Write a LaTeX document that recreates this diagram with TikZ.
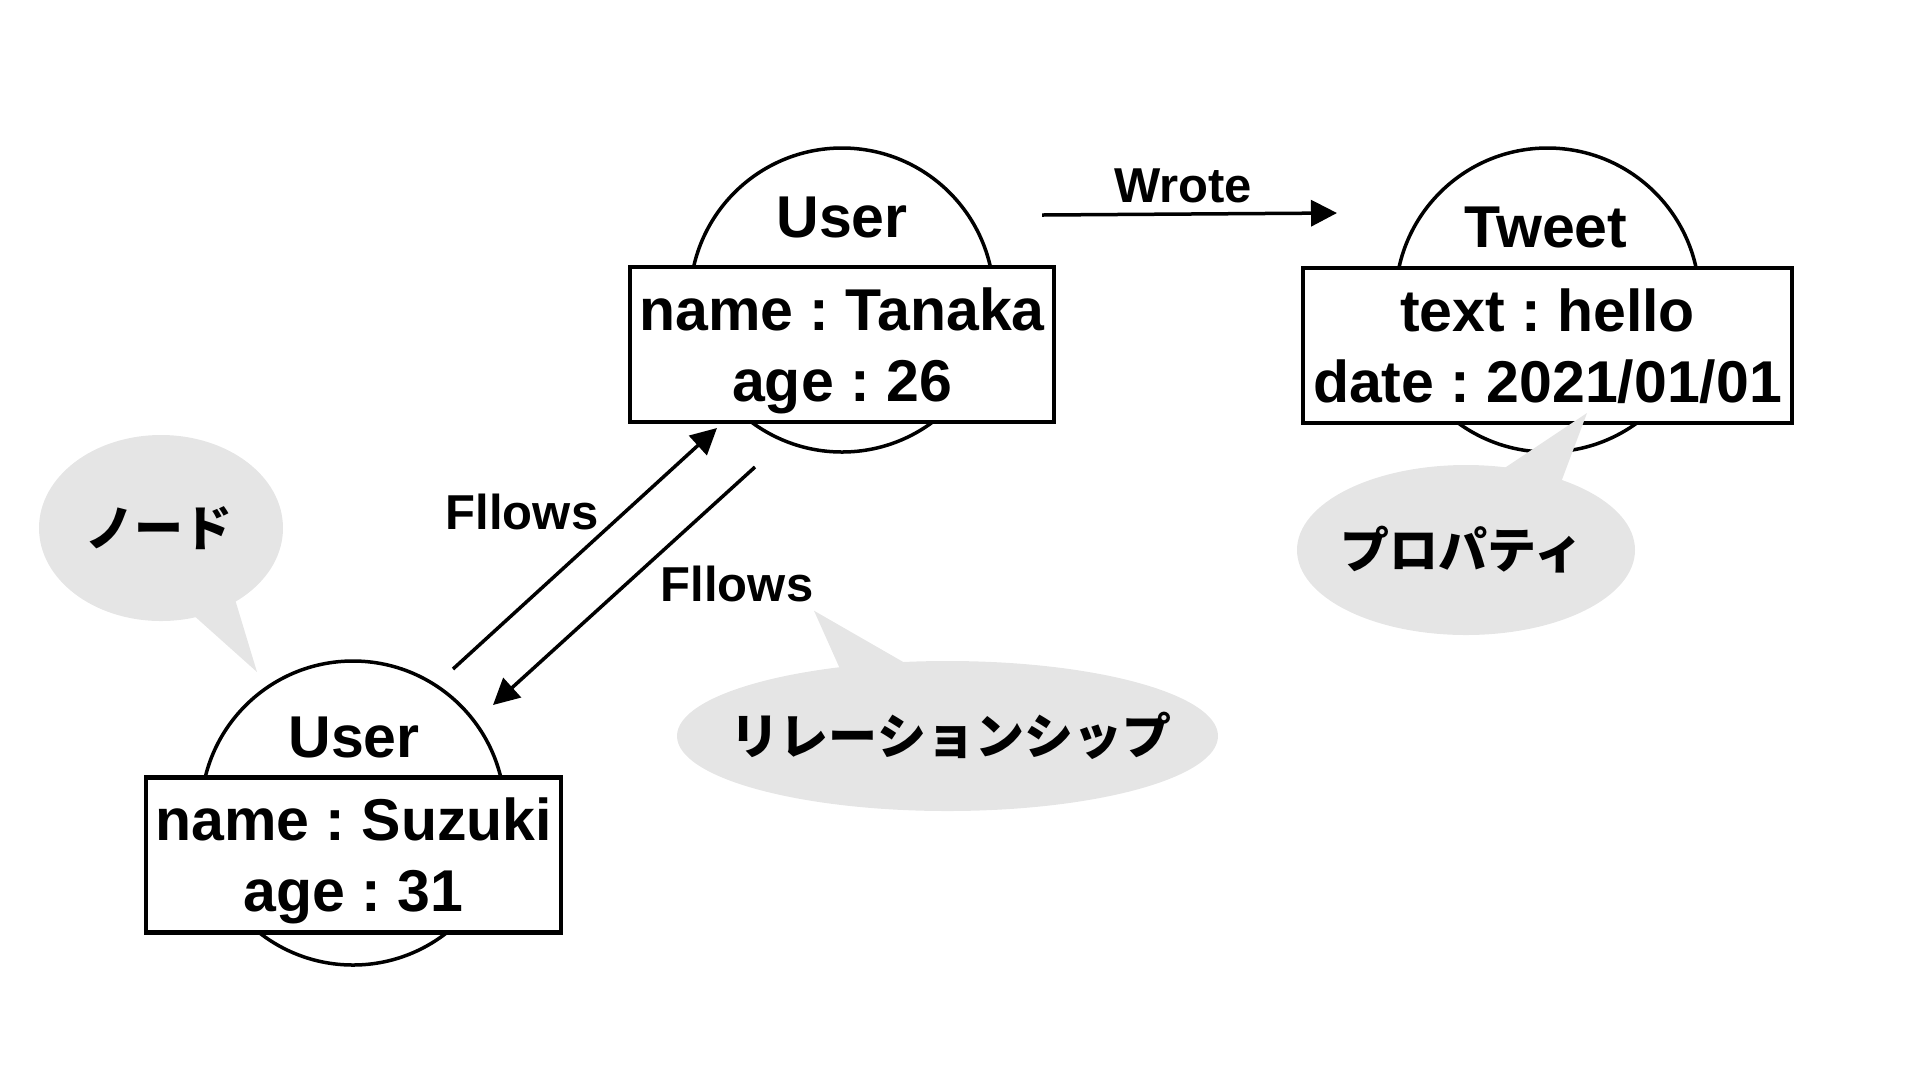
\documentclass[tikz,border=0pt]{standalone}
\usepackage{fontspec}
\setmainfont{Liberation Sans}
\newfontfamily\jpfont{Noto Sans CJK JP}
\usetikzlibrary{arrows.meta}
\definecolor{bubblegray}{RGB}{229,229,229}
\frenchspacing

\begin{document}
\begin{tikzpicture}[x=0.5pt, y=-0.5pt,
		entity/.style={draw, circle, fill=white, line width=1.75pt, minimum size=152pt, inner sep=0pt},
		heading/.style={inner sep=0pt, font=\fontsize{29.5}{35.5}\selectfont\bfseries},
		props/.style={draw, fill=white, line width=2.25pt, minimum height=77.5pt, inner sep=0pt,
			align=center, font=\fontsize{29.5}{35.5}\selectfont\bfseries,
			text height=60pt, text depth=3.5pt},
		link/.style={-{Triangle[length=13pt, width=13pt]}, draw, line width=1.75pt},
		reltext/.style={inner sep=0pt, font=\fontsize{24.5}{28}\selectfont\bfseries},
		bubble/.style={fill=bubblegray},
		bubbletext/.style={inner sep=0pt, font=\fontsize{24.5}{28}\selectfont\jpfont\bfseries}
	]

	\useasboundingbox (0, 0) rectangle (1922, 1084);

	\node[entity] at (842, 300) (tanaka) {};
	\node[heading] at (842, 217) (tanakaT) {User};
	\node[props, minimum width=212pt] at (842, 344.5) (tanakaP) {name : Tanaka\\age : 26};

	\node[entity] at (1547.5, 300) (tweet) {};
	\node[heading] at (1546, 227) (tweetT) {Tweet};
	\node[props, minimum width=244.5pt] at (1547.5, 345.5) (tweetP) {text : hello\\date : 2021/01/01};

	\node[entity] at (353, 813) (suzuki) {};
	\node[heading] at (354, 737) (suzukiT) {User};
	\node[props, minimum width=207.5pt] at (353.5, 855) (suzukiP) {name : Suzuki\\age : 31};

	\coordinate (wroteS) at (1042, 215);
	\coordinate (wroteE) at (1337, 213);
	\draw[link] (wroteS) -- (wroteE);
	\node[reltext] at (1183, 186) (wrote) {Wrote};

	\coordinate (upS) at (453, 669);
	\coordinate (upE) at (717, 428);
	\draw[link] (upS) -- (upE);
	\node[reltext] at (522, 511.5) (upL) {Fllows};

	\coordinate (downS) at (755, 467);
	\coordinate (downE) at (493, 705);
	\draw[link] (downS) -- (downE);
	\node[reltext] at (737, 583.5) (downL) {Fllows};

	\coordinate (nodeC) at (161, 528);
	\fill[bubble] (nodeC) ellipse [x radius=122, y radius=93];
	\fill[bubble] ([shift={(30,85)}]nodeC) -- ([shift={(96,144)}]nodeC) -- ([shift={(73,68)}]nodeC) -- cycle;
	\node[bubbletext] at (159, 528) (nodeB) {ノード};

	\coordinate (relC) at (947.5, 736);
	\fill[bubble] (relC) ellipse [x radius=270.5, y radius=75];
	\fill[bubble] ([shift={(-107,-66)}]relC) -- ([shift={(-133.5,-125.3)}]relC) -- ([shift={(-39,-71)}]relC) -- cycle;
	\node[bubbletext] at (951, 736) (relB) {リレーションシップ};

	\coordinate (propC) at (1466, 550);
	\fill[bubble] (propC) ellipse [x radius=169, y radius=85];
	\fill[bubble] ([shift={(34,-79)}]propC) -- ([shift={(121,-137)}]propC) -- ([shift={(94,-65)}]propC) -- cycle;
	\node[bubbletext] at (1462, 550) (propB) {プロパティ};

\end{tikzpicture}
\end{document}
